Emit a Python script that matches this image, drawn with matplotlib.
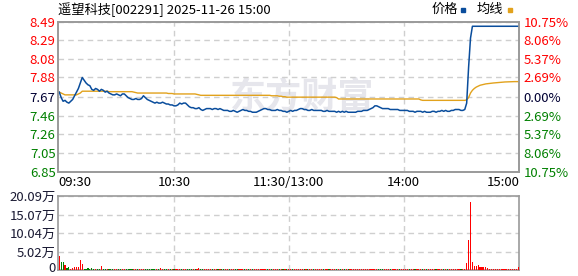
import matplotlib
matplotlib.use("Agg")
import matplotlib.pyplot as plt
import matplotlib.transforms as mtransforms
import numpy as np

plt.rcParams['font.family'] = ['Liberation Sans Narrow', 'Noto Sans CJK SC', 'DejaVu Sans']

# ---- data ----
title = "遥望科技[002291] 2025-11-26 15:00"
prev_close = 7.67
price_ticks = [6.85, 7.05, 7.26, 7.46, 7.67, 7.88, 8.08, 8.29, 8.49]
pct_labels = ["10.75%", "8.06%", "5.37%", "2.69%", "0.00%", "2.69%", "5.37%", "8.06%", "10.75%"]
vol_ticks = [0, 5.02, 10.04, 15.07, 20.09]
vol_labels = ["0", "5.02万", "10.04万", "15.07万", "20.09万"]
time_labels = ["09:30", "10:30", "11:30/13:00", "14:00", "15:00"]
time_pos = [0, 60, 120, 180, 240]

# one value per minute, 241 minutes
price = [
    7.72, 7.66, 7.62, 7.63, 7.61, 7.60, 7.62, 7.64, 7.68, 7.72,  # 0
    7.76, 7.82, 7.88, 7.85, 7.82, 7.80, 7.79, 7.75, 7.74, 7.76,  # 10
    7.75, 7.73, 7.75, 7.74, 7.72, 7.73, 7.71, 7.70, 7.69, 7.69,  # 20
    7.70, 7.69, 7.68, 7.70, 7.70, 7.68, 7.66, 7.65, 7.64, 7.64,  # 30
    7.65, 7.64, 7.64, 7.65, 7.68, 7.66, 7.64, 7.63, 7.62, 7.61,  # 40
    7.60, 7.61, 7.60, 7.60, 7.61, 7.60, 7.59, 7.59, 7.58, 7.58,  # 50
    7.57, 7.57, 7.58, 7.60, 7.59, 7.60, 7.60, 7.58, 7.56, 7.55,  # 60
    7.55, 7.54, 7.54, 7.55, 7.53, 7.52, 7.53, 7.54, 7.54, 7.54,  # 70
    7.53, 7.54, 7.54, 7.53, 7.54, 7.53, 7.52, 7.52, 7.52, 7.51,  # 80
    7.51, 7.52, 7.51, 7.50, 7.51, 7.52, 7.53, 7.52, 7.52, 7.51,  # 90
    7.51, 7.50, 7.50, 7.50, 7.51, 7.52, 7.53, 7.54, 7.54, 7.53,  # 100
    7.53, 7.52, 7.52, 7.52, 7.53, 7.52, 7.52, 7.51, 7.51, 7.50,  # 110
    7.51, 7.52, 7.51, 7.52, 7.52, 7.53, 7.54, 7.54, 7.53, 7.53,  # 120
    7.52, 7.52, 7.53, 7.52, 7.52, 7.52, 7.52, 7.52, 7.51, 7.51,  # 130
    7.52, 7.51, 7.51, 7.51, 7.51, 7.50, 7.51, 7.50, 7.51, 7.50,  # 140
    7.51, 7.50, 7.50, 7.50, 7.50, 7.50, 7.51, 7.51, 7.51, 7.52,  # 150
    7.52, 7.52, 7.53, 7.54, 7.55, 7.57, 7.57, 7.56, 7.55, 7.54,  # 160
    7.54, 7.54, 7.54, 7.53, 7.53, 7.53, 7.53, 7.53, 7.52, 7.52,  # 170
    7.52, 7.52, 7.52, 7.51, 7.51, 7.51, 7.50, 7.51, 7.51, 7.51,  # 180
    7.50, 7.51, 7.50, 7.50, 7.50, 7.51, 7.51, 7.50, 7.51, 7.51,  # 190
    7.52, 7.51, 7.52, 7.51, 7.51, 7.52, 7.52, 7.53, 7.53, 7.53,  # 200
    7.52, 7.52, 7.53, 7.60, 7.99, 8.31, 8.44, 8.44, 8.44, 8.44,  # 210
    8.44, 8.44, 8.44, 8.44, 8.44, 8.44, 8.44, 8.44, 8.44, 8.44,  # 220
    8.44, 8.44, 8.44, 8.44, 8.44, 8.44, 8.44, 8.44, 8.44, 8.44,  # 230
    8.44,                                                        # 240
]

avg_price = [
    7.72, 7.71, 7.70, 7.69, 7.69, 7.69, 7.69, 7.69, 7.69, 7.69,
    7.70, 7.71, 7.73, 7.73, 7.73, 7.73, 7.73, 7.73, 7.73, 7.73,
    7.73, 7.73, 7.73, 7.73, 7.73, 7.73, 7.725, 7.725, 7.725, 7.725,
    7.725, 7.725, 7.725, 7.725, 7.725, 7.725, 7.725, 7.725, 7.725, 7.72,
    7.715, 7.71, 7.71, 7.71, 7.71, 7.71, 7.71, 7.71, 7.71, 7.71,
    7.71, 7.71, 7.71, 7.71, 7.71, 7.71, 7.71, 7.705, 7.705, 7.705,
    7.70, 7.70, 7.70, 7.70, 7.70, 7.70, 7.70, 7.70, 7.70, 7.70,
    7.70, 7.70, 7.695, 7.69, 7.685, 7.685, 7.685, 7.685, 7.685, 7.685,
    7.685, 7.685, 7.685, 7.685, 7.685, 7.685, 7.685, 7.685, 7.685, 7.685,
    7.685, 7.685, 7.685, 7.685, 7.685, 7.685, 7.685, 7.685, 7.685, 7.685,
    7.685, 7.685, 7.685, 7.685, 7.685, 7.685, 7.685, 7.685, 7.685, 7.685,
    7.685, 7.68, 7.68, 7.68, 7.68, 7.675, 7.675, 7.67, 7.67, 7.665,
    7.665, 7.665, 7.665, 7.665, 7.665, 7.665, 7.665, 7.665, 7.665, 7.665,
    7.665, 7.665, 7.665, 7.665, 7.665, 7.665, 7.665, 7.665, 7.665, 7.665,
    7.665, 7.665, 7.665, 7.665, 7.665, 7.66, 7.645, 7.645, 7.645, 7.645,
    7.645, 7.645, 7.645, 7.645, 7.645, 7.645, 7.645, 7.645, 7.645, 7.645,
    7.645, 7.645, 7.645, 7.645, 7.645, 7.645, 7.645, 7.645, 7.645, 7.645,
    7.645, 7.645, 7.645, 7.645, 7.645, 7.645, 7.645, 7.645, 7.645, 7.645,
    7.645, 7.645, 7.645, 7.645, 7.645, 7.645, 7.645, 7.645, 7.645, 7.635,
    7.63, 7.63, 7.63, 7.63, 7.63, 7.63, 7.63, 7.63, 7.63, 7.63,
    7.63, 7.63, 7.63, 7.63, 7.63, 7.63, 7.63, 7.63, 7.63, 7.63,
    7.63, 7.63, 7.63, 7.635, 7.66, 7.71, 7.74, 7.76, 7.775, 7.785,
    7.795, 7.80, 7.805, 7.81, 7.812, 7.815, 7.818, 7.82, 7.822, 7.824,
    7.826, 7.828, 7.83, 7.831, 7.832, 7.833, 7.834, 7.834, 7.835, 7.835,
    7.835,
]

# volume in 万 shares
volume = [
    3.80, 2.30, 2.30, 1.40, 0.60, 0.90, 0.40, 0.60, 0.90, 0.90,
    0.90, 2.70, 1.60, 0.40, 0.40, 0.60, 0.40, 0.50, 0.40, 0.40,
    0.40, 0.40, 1.10, 0.40, 0.40, 0.40, 0.40, 0.40, 0.40, 0.40,
    0.40, 0.40, 0.40, 0.40, 0.40, 0.40, 0.40, 0.40, 0.40, 0.40,
    0.40, 0.40, 0.40, 0.40, 0.40, 0.40, 0.40, 0.40, 0.40, 0.40,
    0.40, 0.40, 0.40, 0.55, 0.40, 0.40, 0.40, 0.40, 0.40, 0.40,
    0.40, 0.40, 0.40, 0.40, 0.40, 0.40, 0.40, 0.40, 0.40, 0.40,
    0.40, 0.40, 0.40, 0.55, 0.40, 0.40, 0.40, 0.40, 0.40, 0.40,
    0.40, 0.40, 0.40, 0.40, 0.40, 0.40, 0.40, 0.40, 0.40, 0.40,
    0.40, 0.40, 0.40, 0.40, 0.40, 0.40, 0.40, 0.40, 0.40, 0.40,
    0.40, 0.40, 0.40, 0.40, 0.40, 0.40, 0.40, 0.40, 0.40, 0.40,
    0.40, 0.40, 0.40, 0.40, 0.40, 0.40, 0.40, 0.40, 0.40, 0.40,
    0.40, 0.40, 0.40, 0.40, 0.40, 0.40, 0.40, 0.40, 0.40, 0.40,
    0.40, 0.40, 0.40, 0.40, 0.40, 0.40, 0.40, 0.40, 0.40, 0.40,
    0.40, 0.40, 0.40, 0.40, 0.40, 0.40, 0.40, 0.40, 0.40, 0.40,
    0.40, 0.40, 0.40, 0.40, 0.40, 0.40, 0.40, 0.40, 0.40, 0.40,
    0.40, 0.40, 0.40, 0.40, 0.40, 0.40, 0.40, 0.40, 0.40, 0.40,
    0.40, 0.40, 0.40, 0.40, 0.40, 0.40, 0.40, 0.40, 0.40, 0.40,
    0.40, 0.40, 0.40, 0.40, 0.40, 0.40, 0.40, 0.40, 0.40, 0.40,
    0.40, 0.40, 0.40, 0.40, 0.40, 0.40, 0.40, 0.40, 0.40, 0.40,
    0.40, 0.40, 0.40, 0.40, 0.40, 0.40, 0.40, 0.40, 0.40, 0.40,
    0.40, 0.40, 0.40, 2.00, 8.15, 18.50, 2.20, 1.10, 1.10, 1.36,
    0.70, 0.70, 0.70, 0.70, 0.55, 0.40, 0.40, 0.40, 0.40, 0.40,
    0.40, 0.40, 0.40, 0.40, 0.40, 0.40, 0.40, 0.40, 0.40, 0.40,
    0.90,
]

RED = "#ff0000"
GREEN = "#008000"
FLAT = "#000033"
PRICE_C = "#0a4d9c"
AVG_C = "#e2a21c"
GRID_C = "#cfcfcf"
SPINE_C = "#9a9a9a"


def level_color(v):
    if abs(v - prev_close) < 1e-6:
        return FLAT
    return RED if v > prev_close else GREEN


def main():
    x = np.arange(len(price))
    fig = plt.figure(figsize=(5.78, 2.76), dpi=100)

    ax = fig.add_axes([0.1009, 0.3779, 0.7975, 0.5435])
    axv = fig.add_axes([0.1009, 0.0217, 0.7975, 0.2681])

    # watermark
    ax.text(0.53, 0.50, "东方财富", transform=ax.transAxes, fontsize=26,
            fontweight="bold", color="#e6e6ec", ha="center", va="center",
            family=["Noto Sans CJK SC"], zorder=0)

    ax.plot(x, avg_price, color=AVG_C, lw=1.0, zorder=3)
    ax.plot(x, price, color=PRICE_C, lw=1.1, zorder=4)

    ax.set_xlim(-0.5, 240.5)
    ax.set_ylim(price_ticks[0], price_ticks[-1])
    ax.set_yticks(price_ticks)
    ax.set_yticklabels([f"{t:.2f}" for t in price_ticks], fontsize=9.5)
    for lab, t in zip(ax.get_yticklabels(), price_ticks):
        lab.set_color(level_color(t))
    ax.set_xticks(time_pos[1:4])
    ax.set_xticklabels([])
    ax.tick_params(length=0, pad=2)
    ax.grid(True, color=GRID_C, ls=(0, (4, 3)), lw=1.0)

    ax2 = ax.twinx()
    ax2.set_ylim(ax.get_ylim())
    ax2.set_yticks(price_ticks)
    ax2.set_yticklabels(pct_labels, fontsize=9.5)
    for lab, t in zip(ax2.get_yticklabels(), price_ticks):
        lab.set_color(level_color(t))
    ax2.tick_params(length=0, pad=3)

    for a in (ax, ax2, axv):
        for s in a.spines.values():
            s.set_color(SPINE_C)
            s.set_linewidth(1.2)

    # time labels between the panels
    for pos, lab in zip(time_pos, time_labels):
        ha = "center"
        if pos == time_pos[0]:
            ha = "left"
        elif pos == time_pos[-1]:
            ha = "right"
        ax.text(pos if ha == "center" else (-0.5 if ha == "left" else 240.5),
                -0.075, lab, transform=ax.get_xaxis_transform(), ha=ha,
                va="center", fontsize=9.5, color="black")

    # volume bars coloured by minute direction, drawn over the bottom spine
    prev = [prev_close] + price[:-1]
    colors = [RED if p >= q else GREEN for p, q in zip(price, prev)]
    axv.bar(x, volume, width=0.6, color=colors, linewidth=0, zorder=3)
    axv.set_xlim(-0.5, 240.5)
    axv.set_ylim(0, vol_ticks[-1])
    axv.set_yticks(vol_ticks)
    axv.set_yticklabels(vol_labels, fontsize=9.5, color="#1a1a33")
    axv.set_xticks(time_pos[1:4])
    axv.set_xticklabels([])
    axv.tick_params(length=0, pad=2)
    axv.grid(True, color=GRID_C, ls=(0, (4, 3)), lw=1.0)
    axv.set_axisbelow(True)
    # lift the "0" label a touch so it stays inside the figure
    zero_lab = axv.get_yticklabels()[0]
    zero_lab.set_transform(zero_lab.get_transform() +
                           mtransforms.ScaledTranslation(0, 2 / 72, fig.dpi_scale_trans))

    # header
    fig.text(0.1009, 0.965, title, fontsize=9.5, ha="left", va="center")
    fig.text(0.747, 0.965, "价格", fontsize=9.5, ha="left", va="center")
    fig.patches.append(plt.Rectangle((0.798, 0.958), 0.007, 0.012,
                                     transform=fig.transFigure, color=PRICE_C))
    fig.text(0.825, 0.965, "均线", fontsize=9.5, ha="left", va="center")
    fig.patches.append(plt.Rectangle((0.879, 0.958), 0.007, 0.012,
                                     transform=fig.transFigure, color=AVG_C))

    fig.savefig("out.png", dpi=100)
    plt.close(fig)


if __name__ == "__main__":
    main()
